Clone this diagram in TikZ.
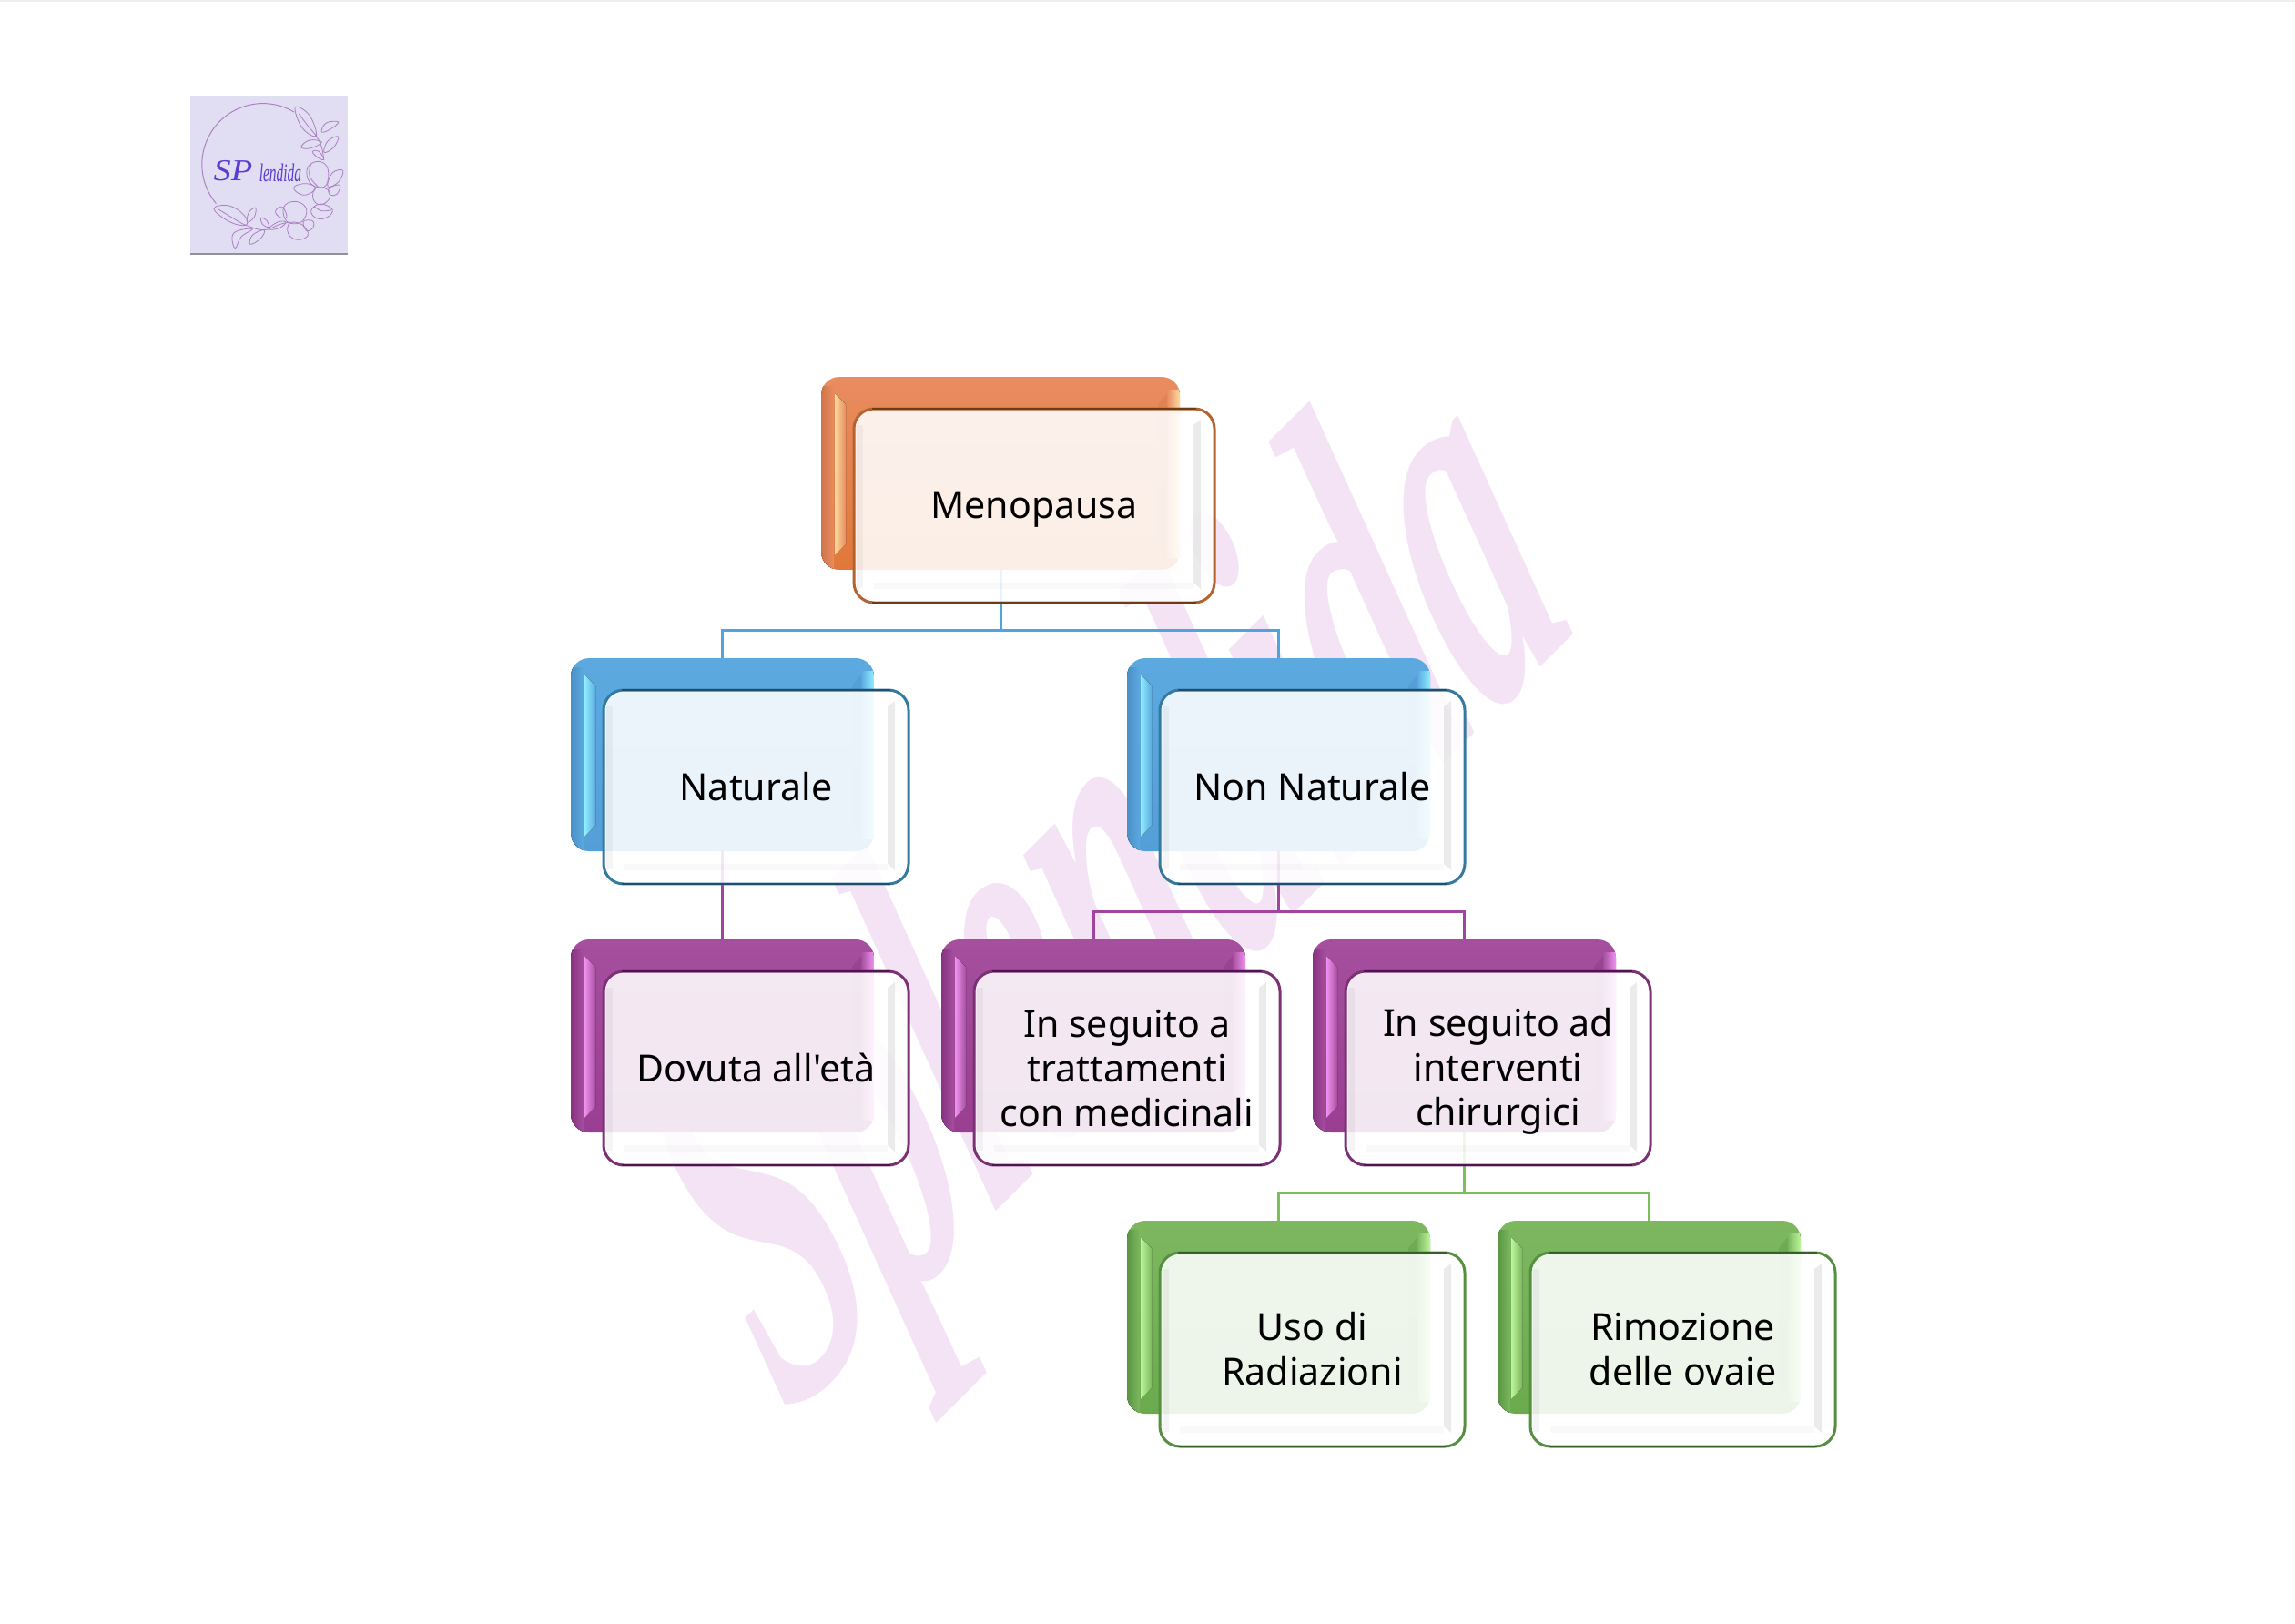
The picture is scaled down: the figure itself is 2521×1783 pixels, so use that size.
\documentclass[tikz,border=0pt]{standalone}
\usepackage{fontspec}
\setmainfont{Noto Sans}
\newfontfamily\boxfont{Noto Sans}
\newfontfamily\wmfont{Liberation Serif}
\usetikzlibrary{calc}
\pgfdeclarelayer{under}
\pgfsetlayers{under,main}
% palettes
\definecolor{orTop}{HTML}{E98C60}\definecolor{orBot}{HTML}{E0783A}\definecolor{orLeft}{HTML}{D0754A}\definecolor{orHi}{HTML}{FBDB9E}\definecolor{orLine}{HTML}{B4632F}\definecolor{orDark}{HTML}{6E3A1C}
\definecolor{blTop}{HTML}{5CA9E0}\definecolor{blBot}{HTML}{559FD9}\definecolor{blLeft}{HTML}{4A90C6}\definecolor{blHi}{HTML}{8FEEFF}\definecolor{blLine}{HTML}{35799F}\definecolor{blDark}{HTML}{1F4F6E}
\definecolor{puTop}{HTML}{A54F9E}\definecolor{puBot}{HTML}{9A3E92}\definecolor{puLeft}{HTML}{883382}\definecolor{puHi}{HTML}{F092F0}\definecolor{puLine}{HTML}{7A3275}\definecolor{puDark}{HTML}{4D1650}
\definecolor{grTop}{HTML}{7DB860}\definecolor{grBot}{HTML}{6CAA4E}\definecolor{grLeft}{HTML}{5A9442}\definecolor{grHi}{HTML}{BDF59A}\definecolor{grLine}{HTML}{568F40}\definecolor{grDark}{HTML}{35602A}
\definecolor{conBlue}{HTML}{4FA3DF}\definecolor{conPurple}{HTML}{A044A0}\definecolor{conGreen}{HTML}{7BBF58}
\definecolor{wmark}{HTML}{F3E3F5}\definecolor{logoBg}{HTML}{E1DDF2}\definecolor{logoLine}{HTML}{AC7FC2}\definecolor{logoInk}{HTML}{5A3CD0}
\tikzset{
  x=0.02cm,y=-0.02cm,
  backbox/.style={rectangle,rounded corners=0.4cm,inner sep=0pt,outer sep=0pt,minimum height=4.24cm},
  frontbox/.style={rectangle,rounded corners=0.44cm,inner sep=0pt,outer sep=0pt,minimum height=4.26cm,
    fill=white,fill opacity=.88,text opacity=1,align=center,line width=1.7pt,
    font=\boxfont\fontsize{23.4}{27.9}\selectfont},
  conn/.style={line width=1.7pt},
  logoleaf/.style={draw=logoLine,line width=.45pt},
}
% \glassbox{id}{x0}{y0}{w}{palette}{text}
\newcommand{\glassbox}[6]{%
  \pgfmathsetmacro{\bx}{#2}\pgfmathsetmacro{\by}{#3}\pgfmathsetmacro{\bw}{#4}%
  \pgfmathsetmacro{\bxr}{\bx+\bw}\pgfmathsetmacro{\byb}{\by+212}%
  \pgfmathsetmacro{\fx}{\bx+36}\pgfmathsetmacro{\fy}{\by+35}%
  \pgfmathsetmacro{\fxr}{\fx+\bw+2}\pgfmathsetmacro{\fyb}{\fy+213}%
  \node[backbox,minimum width=\bw*0.02cm,top color=#5Top,bottom color=#5Bot]
     (#1back) at ({\bx+\bw/2},{\by+106}) {};
  \begin{scope}
    \clip[rounded corners=0.4cm] (\bx,\by) rectangle (\bxr,\byb);
    \fill[left color=#5Left,right color=#5Top] (\bx,\by+10) rectangle (\bx+14,\byb);
    \fill[left color=#5Top,right color=#5Hi] (\bxr-14,\by+14) rectangle (\bxr,\byb-14);
    \fill[left color=#5Hi,right color=#5Top] (\bx+15,\by+18) -- (\bx+27,\by+30) -- (\bx+27,\byb-28) -- (\bx+15,\byb-16) -- cycle;
    \fill[#5Left,opacity=.35] (\bxr-14,\by+18) -- (\bxr-14,\byb-16) -- (\bxr-24,\byb-28) -- (\bxr-24,\by+30) -- cycle;
  \end{scope}
  \node[frontbox,draw=#5Line,minimum width=(\bw+2)*0.02cm]
     (#1front) at ({\fx+(\bw+2)/2},{\fy+106.5}) {\rule{0pt}{21pt}#6\rule[-4pt]{0pt}{4pt}};
  \draw[#5Dark,line width=1.1pt] (\fx+20,\fy) -- (\fxr-20,\fy) (\fx+20,\fyb) -- (\fxr-20,\fyb);
  \fill[black,opacity=.08] (\fxr-23,\fy+18) -- (\fxr-15,\fy+12) -- (\fxr-15,\fyb-15) -- (\fxr-23,\fyb-22) -- cycle;
  \fill[black,opacity=.025] (\fx+22,\fyb-22) rectangle (\fxr-23,\fyb-15);
  \fill[black,opacity=.04] (\fx+3,\fy+18) rectangle (\fx+10,\fyb-16);
}
\begin{document}
\begin{tikzpicture}
\useasboundingbox (0,0) rectangle (2521,1783);

% logo
\fill[logoBg] (209,105) rectangle (382,279);
\draw[black!35!logoBg,line width=.8pt] (209,279) -- (382,279);
\draw[logoLine,line width=.55pt] (323,123) arc[start angle=-59.3,end angle=-220,radius=67];
\begin{scope}[shift={(190,90)},scale=1/3]
  \draw[logoleaf] plot[smooth cycle,tension=.7] coordinates {(403,83) (450,110) (472,178) (425,150)};
  \draw[logoleaf] plot[smooth,tension=.7] coordinates {(415,105) (445,145) (472,178) (490,215) (497,258)};
  \draw[logoleaf] plot[smooth cycle,tension=.7] coordinates {(545,132) (505,135) (490,165) (520,155)};
  \draw[logoleaf] plot[smooth cycle,tension=.7] coordinates {(545,180) (510,195) (498,232) (530,215)};
  \draw[logoleaf] plot[smooth cycle,tension=.7] coordinates {(422,215) (450,192) (490,198) (455,218)};
  \draw[logoleaf] plot[smooth cycle,tension=.7] coordinates {(460,230) (480,228) (497,255) (478,250)};
  \draw[logoleaf] plot[smooth cycle,tension=.7] coordinates {(445,280) (480,262) (510,285) (505,340) (470,345) (445,320)};
  \draw[logoleaf] plot[smooth,tension=.7] coordinates {(455,270) (450,310) (478,345)};
  \draw[logoleaf] plot[smooth cycle,tension=.7] coordinates {(560,292) (525,300) (510,345) (545,330)};
  \draw[logoleaf] plot[smooth cycle,tension=.7] coordinates {(400,345) (440,335) (470,350) (440,372) (410,365)};
  \draw[logoleaf] plot[smooth cycle,tension=.7] coordinates {(470,350) (510,355) (515,385) (485,405) (462,385)};
  \draw[logoleaf] plot[smooth cycle,tension=.7] coordinates {(515,350) (550,340) (540,370) (518,372)};
  \draw[logoleaf] plot[smooth cycle,tension=.7] coordinates {(455,425) (485,402) (525,420) (510,445) (475,450)};
  \draw[logoleaf] plot[smooth,tension=.7] coordinates {(465,410) (490,425) (522,422)};
  \draw[logoleaf] plot[smooth cycle,tension=.7] coordinates {(370,405) (410,395) (440,420) (425,460) (385,465) (365,440)};
  \draw[logoleaf] plot[smooth cycle,tension=.7] coordinates {(338,425) (360,412) (375,445) (350,445)};
  \draw[logoleaf] plot[smooth cycle,tension=.7] coordinates {(385,465) (425,470) (445,505) (410,520) (380,500)};
  \draw[logoleaf] plot[smooth cycle,tension=.7] coordinates {(430,460) (460,458) (462,480) (440,490)};
  \draw[logoleaf] plot[smooth cycle,tension=.7] coordinates {(135,418) (185,408) (235,440) (240,472) (185,460)};
  \draw[logoleaf] plot[smooth,tension=.7] coordinates {(150,420) (200,450) (240,472) (300,488) (350,470) (385,462)};
  \draw[logoleaf] plot[smooth cycle,tension=.7] coordinates {(205,548) (195,510) (215,490) (262,485) (225,510)};
  \draw[logoleaf] plot[smooth cycle,tension=.7] coordinates {(255,535) (262,505) (300,488) (290,515)};
  \draw[logoleaf] plot[smooth cycle,tension=.7] coordinates {(272,415) (250,430) (245,462) (268,445)};
  \draw[logoleaf] plot[smooth cycle,tension=.7] coordinates {(290,448) (310,458) (315,478) (296,470)};
  \draw[logoleaf] plot[smooth cycle,tension=.7] coordinates {(315,485) (345,462) (372,462) (350,482)};
\end{scope}
\node[text=logoInk,inner sep=0pt,xscale=1.15,transform shape,font=\wmfont\fontsize{19}{19}\selectfont\itshape] (logoSP) at (256,188) {SP};
\node[text=logoInk,inner sep=0pt,xscale=.55,transform shape,font=\wmfont\fontsize{16}{16}\selectfont\itshape] (logoName) at (308,190) {lendida};

% boxes
\glassbox{meno}{902}{414}{394}{or}{Menopausa}
\glassbox{nat}{627}{723}{333}{bl}{Naturale}
\glassbox{non}{1238}{723}{333}{bl}{Non Naturale}
\glassbox{dov}{627}{1032}{333}{pu}{Dovuta all\symbol{39}età}
\glassbox{med}{1034}{1032}{334}{pu}{In seguito a\\trattamenti\\con medicinali}
\glassbox{chi}{1442}{1032}{333}{pu}{In seguito ad\\interventi\\chirurgici}
\glassbox{uso}{1238}{1341}{333}{gr}{Uso di\\Radiazioni}
\glassbox{rim}{1645}{1341}{333}{gr}{Rimozione\\delle ovaie}

% connectors and watermark lie below the boxes
\coordinate (busA) at (0,692);
\coordinate (busB) at (0,1001);
\coordinate (busC) at (0,1310);
\begin{pgfonlayer}{under}
  \fill[white] (0,0) rectangle (2521,1783);
  \fill[black!6] (0,0) rectangle (2521,1.5);
  \node[rotate=45,xslant=.28,xscale=1.0,yscale=1.85,transform shape,anchor=base west,inner sep=0pt,text=wmark,
      font=\wmfont\fontsize{171}{171}\selectfont\bfseries\itshape] (wm) at (865,1560) {Splendida};
  \draw[conn,conBlue] (menoback.south) -- (menoback.south |- busA) -| (natback.north);
  \draw[conn,conBlue] (menoback.south |- busA) -| (nonback.north);
  \draw[conn,conPurple] (natback.south) -- (dovback.north);
  \draw[conn,conPurple] (nonback.south) -- (nonback.south |- busB) -| (medback.north);
  \draw[conn,conPurple] (nonback.south |- busB) -| (chiback.north);
  \draw[conn,conGreen] (chiback.south) -- (chiback.south |- busC) -| (usoback.north);
  \draw[conn,conGreen] (chiback.south |- busC) -| (rimback.north);
\end{pgfonlayer}
\end{tikzpicture}
\end{document}
